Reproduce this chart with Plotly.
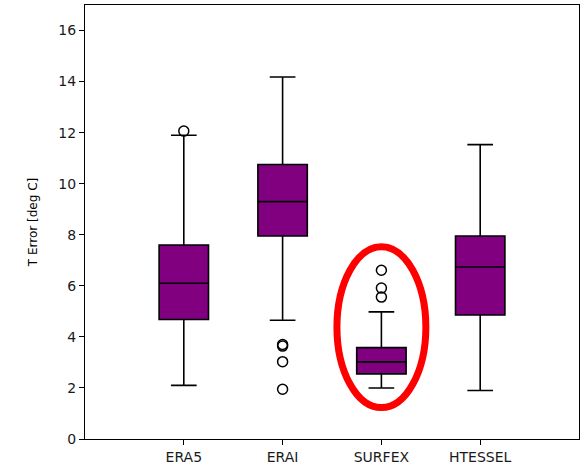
import plotly.graph_objects as go

categories = ["ERA5", "ERAI", "SURFEX", "HTESSEL"]
positions = [1, 2, 3, 4]
lower_whisker = [2.1, 4.65, 2.0, 1.9]
q1 = [4.68, 7.95, 2.55, 4.86]
median = [6.1, 9.3, 3.02, 6.74]
q3 = [7.6, 10.75, 3.58, 7.95]
upper_whisker = [11.9, 14.18, 4.98, 11.53]
outlier_x = [1, 2, 2, 2, 2, 3, 3, 3]
outlier_y = [12.06, 3.7, 3.64, 3.03, 1.95, 5.56, 5.91, 6.61]

fig = go.Figure()
fig.add_trace(go.Box(
    x=positions, q1=q1, median=median, q3=q3,
    lowerfence=lower_whisker, upperfence=upper_whisker,
    width=0.5, whiskerwidth=0.52,
    fillcolor="#800080", line=dict(color="black", width=1.6),
    boxpoints=False, showlegend=False, hoverinfo="skip",
))
fig.add_trace(go.Scatter(
    x=outlier_x, y=outlier_y, mode="markers",
    marker=dict(symbol="circle-open", size=10, color="black", line=dict(width=1.5)),
    showlegend=False, hoverinfo="skip",
))

# red ellipse highlighting SURFEX
fig.add_shape(type="circle", xref="x", yref="y",
              x0=2.55, x1=3.45, y0=1.23, y1=7.53,
              line=dict(color="red", width=7))

fig.update_layout(
    width=587, height=469,
    margin=dict(l=85, r=8, t=4, b=25),
    paper_bgcolor="white", plot_bgcolor="white",
    font=dict(family="DejaVu Sans", color="#1a1a1a", size=14),
)
fig.update_xaxes(
    range=[0, 5], tickmode="array", tickvals=positions, ticktext=categories,
    ticks="outside", ticklen=5, tickcolor="black", tickwidth=1,
    showline=True, linecolor="black", linewidth=1.3, mirror=True,
    showgrid=False, zeroline=False,
)
fig.update_yaxes(
    range=[0, 17], tickvals=[0, 2, 4, 6, 8, 10, 12, 14, 16],
    ticks="outside", ticklen=5, tickcolor="black", tickwidth=1,
    showline=True, linecolor="black", linewidth=1.3, mirror=True,
    showgrid=False, zeroline=False,
    title=dict(text="T Error [deg C]", font=dict(size=12, color="black"), standoff=18),
)

fig.write_html("out.html")
